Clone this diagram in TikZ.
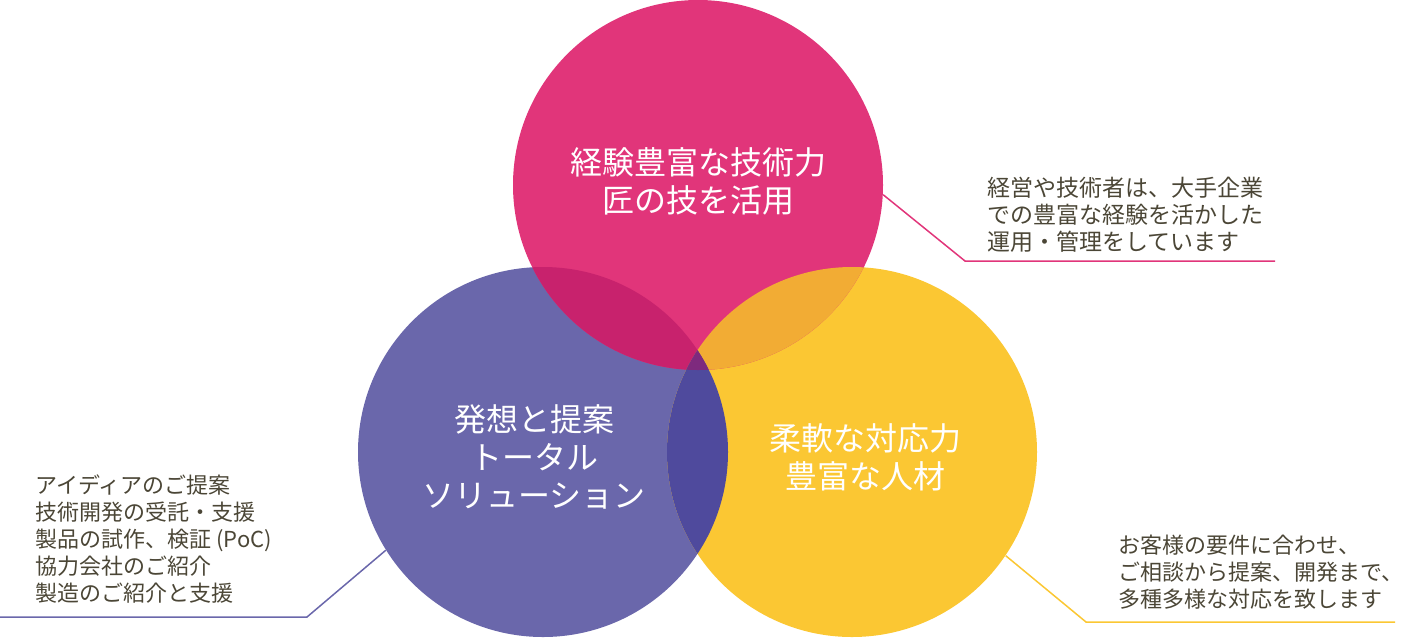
\documentclass[tikz,border=0pt]{standalone}
\usepackage{fontspec}
\setmainfont{Noto Sans CJK JP}
\definecolor{rosepink}{HTML}{E1357A}
\definecolor{violet}{HTML}{6A67AB}
\definecolor{sunyellow}{HTML}{FBC733}
\definecolor{rosevio}{HTML}{C8226D}
\definecolor{roseyel}{HTML}{F2AC34}
\definecolor{vioyel}{HTML}{4F4A9D}
\definecolor{allthree}{HTML}{7E2A7E}
\definecolor{notegray}{HTML}{4B4636}

\begin{document}
\begin{tikzpicture}[x=0.5pt, y=-0.5pt,
  ring/.style={circle, minimum size=185pt, inner sep=0pt},
  title/.style={white, align=center, font=\fontsize{16}{19}\selectfont},
  note/.style={notegray, align=left, anchor=west, inner sep=0pt, font=\fontsize{11}{13.5}\selectfont},
  leader/.style={line width=0.75pt}]
  \useasboundingbox (0,0) rectangle (1402,639);
  \node[ring, fill=violet] (vio) at (543,452) {};
  \node[ring, fill=sunyellow] (yel) at (852,452) {};
  \node[ring, fill=rosepink] (rose) at (698,185) {};
\begin{scope}
  \clip (rose.center) circle (92.5pt);
  \fill[rosevio] (vio.center) circle (92.5pt);
  \fill[roseyel] (yel.center) circle (92.5pt);
\end{scope}
\begin{scope}
  \clip (vio.center) circle (92.5pt);
  \fill[vioyel] (yel.center) circle (92.5pt);
  \clip (yel.center) circle (92.5pt);
  \fill[allthree] (rose.center) circle (92.5pt);
\end{scope}
  \node[title] (roseT) at (698,181) {経験豊富な技術力\\匠の技を活用};
  \node[title] (vioT) at (534,457) {発想と提案\\トータル\\ソリューション};
  \node[title] (yelT) at (865,457) {柔軟な対応力\\豊富な人材};
  \coordinate (roseK) at (965,261);
  \coordinate (roseE) at (1275,261);
  \coordinate (vioK) at (307,617);
  \coordinate (vioE) at (0,617);
  \coordinate (yelK) at (1086,622);
  \coordinate (yelE) at (1395,622);
  \draw[leader, rosepink] (rose.-3) -- (roseK) -- (roseE);
  \draw[leader, violet] (vio.212) -- (vioK) -- (vioE);
  \draw[leader, sunyellow] (yel.-34) -- (yelK) -- (yelE);
  \node[note, font=\fontsize{11.5}{13.5}\selectfont] (roseN) at (987,215)
    {経営や技術者は、大手企業\\での豊富な経験を活かした\\運用・管理をしています};
  \node[note] (vioN) at (35,539)
    {アイディアのご提案\\技術開発の受託・支援\\製品の試作、検証 (PoC)\\協力会社のご紹介\\製造のご紹介と支援};
  \node[note] (yelN) at (1118,572)
    {お客様の要件に合わせ、\\ご相談から提案、開発まで、\\多種多様な対応を致します};
\end{tikzpicture}
\end{document}
